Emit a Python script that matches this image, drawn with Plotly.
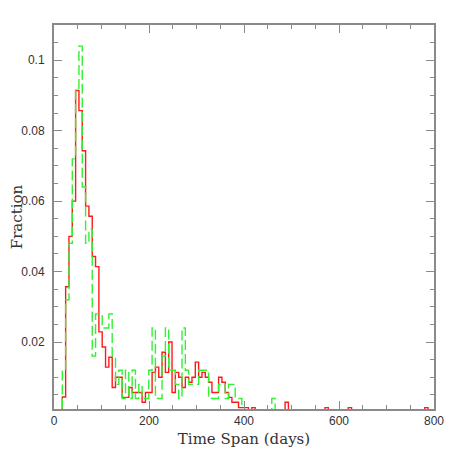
import plotly.graph_objects as go

# Histogram data: bin centres (days, bin width 7) and fraction per bin
bin_width = 7
red_days = [21, 28, 35, 42, 49, 56, 63, 70, 77, 84, 91, 98, 105, 112, 119, 126, 133, 140,
            147, 154, 161, 168, 175, 182, 189, 196, 203, 210, 217, 224, 231, 238, 245, 252,
            259, 266, 273, 280, 287, 294, 301, 308, 315, 322, 329, 336, 343, 350, 357, 364,
            371, 378, 385, 392, 399, 406, 420, 490, 574, 623, 784]
red_frac = [0.0044, 0.0357, 0.0500, 0.0600, 0.0914, 0.0857, 0.0743, 0.0586, 0.0557, 0.0443,
            0.0414, 0.0229, 0.0186, 0.0129, 0.0157, 0.0071, 0.0100, 0.0100, 0.0043, 0.0043,
            0.0071, 0.0057, 0.0057, 0.0057, 0.0029, 0.0057, 0.0057, 0.0114, 0.0129, 0.0100,
            0.0171, 0.0114, 0.0200, 0.0057, 0.0114, 0.0100, 0.0071, 0.0100, 0.0086, 0.0100,
            0.0143, 0.0100, 0.0114, 0.0100, 0.0086, 0.0057, 0.0057, 0.0100, 0.0086, 0.0057,
            0.0043, 0.0029, 0.0029, 0.0014, 0.0014, 0.0014, 0.0014, 0.0029, 0.0014, 0.0014,
            0.0014]

green_days = [21, 28, 35, 42, 49, 56, 63, 70, 77, 84, 91, 98, 105, 112, 119, 126, 133, 140,
              147, 154, 161, 168, 175, 182, 189, 196, 203, 210, 217, 224, 231, 238, 245, 252,
              259, 266, 273, 280, 287, 294, 301, 308, 315, 322, 329, 336, 343, 350, 357, 364,
              371, 378, 385, 392, 462]
green_frac = [0.012, 0.032, 0.048, 0.072, 0.092, 0.104, 0.064, 0.048, 0.052, 0.016, 0.028,
              0.028, 0.024, 0.024, 0.028, 0.016, 0.008, 0.012, 0.004, 0.012, 0.004, 0.012,
              0.004, 0.008, 0.004, 0.004, 0.012, 0.024, 0.004, 0.004, 0.016, 0.024, 0.012,
              0.012, 0.008, 0.004, 0.024, 0.012, 0.008, 0.008, 0.008, 0.012, 0.012, 0.012,
              0.004, 0.004, 0.004, 0.008, 0.008, 0.004, 0.008, 0.008, 0.004, 0.004, 0.004]

x_ticks = [0, 200, 400, 600, 800]
y_ticks = [0.02, 0.04, 0.06, 0.08, 0.1]
y_tick_text = ["0.02", "0.04", "0.06", "0.08", "0.1"]


def step_outline(days, frac):
    lookup = dict(zip(days, frac))
    n_bins = 115
    xs, ys = [], []
    for k in range(n_bins):
        c = k * bin_width
        xs.append(c - bin_width / 2)
        ys.append(lookup.get(c, 0.0))
    xs.append((n_bins - 1) * bin_width + bin_width / 2)
    ys.append(0.0)
    return xs, ys


rx, ry = step_outline(red_days, red_frac)
gx, gy = step_outline(green_days, green_frac)

fig = go.Figure()
fig.add_trace(go.Scatter(x=rx, y=ry, mode="lines", line_shape="hv",
                         line=dict(color="#ff1a1a", width=1.4), showlegend=False,
                         hoverinfo="skip"))
fig.add_trace(go.Scatter(x=gx, y=gy, mode="lines", line_shape="hv",
                         line=dict(color="#33f033", width=1.4, dash="10px,4px"),
                         showlegend=False, hoverinfo="skip"))

axis_color = "#8a8a8a"
fig.update_layout(
    width=450, height=450,
    margin=dict(l=46, r=24, t=17, b=49, autoexpand=False),
    paper_bgcolor="white", plot_bgcolor="white",
    font=dict(family="Liberation Sans", size=12, color="#333333"),
)
fig.update_xaxes(
    range=[0, 800], showgrid=False, zeroline=False, automargin=False,
    showline=True, linecolor=axis_color, linewidth=2, mirror="allticks",
    ticks="inside", ticklen=8, tickwidth=1.3, tickcolor=axis_color,
    tickvals=x_ticks, ticktext=[str(v) for v in x_ticks],
    minor=dict(dtick=50, ticks="inside", ticklen=4, tickwidth=1, tickcolor=axis_color,
               showgrid=False),
    title=dict(text="Time Span (days)",
               font=dict(family="DejaVu Serif", size=15, color="#333333"), standoff=6),
)
fig.update_yaxes(
    range=[0.001, 0.11], showgrid=False, zeroline=False, automargin=False,
    showline=True, linecolor=axis_color, linewidth=2, mirror="allticks",
    ticks="inside", ticklen=8, tickwidth=1.3, tickcolor=axis_color,
    tickvals=y_ticks, ticktext=y_tick_text, ticklabelstandoff=5,
    minor=dict(dtick=0.005, tick0=0, ticks="inside", ticklen=4, tickwidth=1,
               tickcolor=axis_color, showgrid=False),
    title=dict(text="Fraction",
               font=dict(family="DejaVu Serif", size=15, color="#333333"), standoff=0),
)

fig.write_html("out.html")
